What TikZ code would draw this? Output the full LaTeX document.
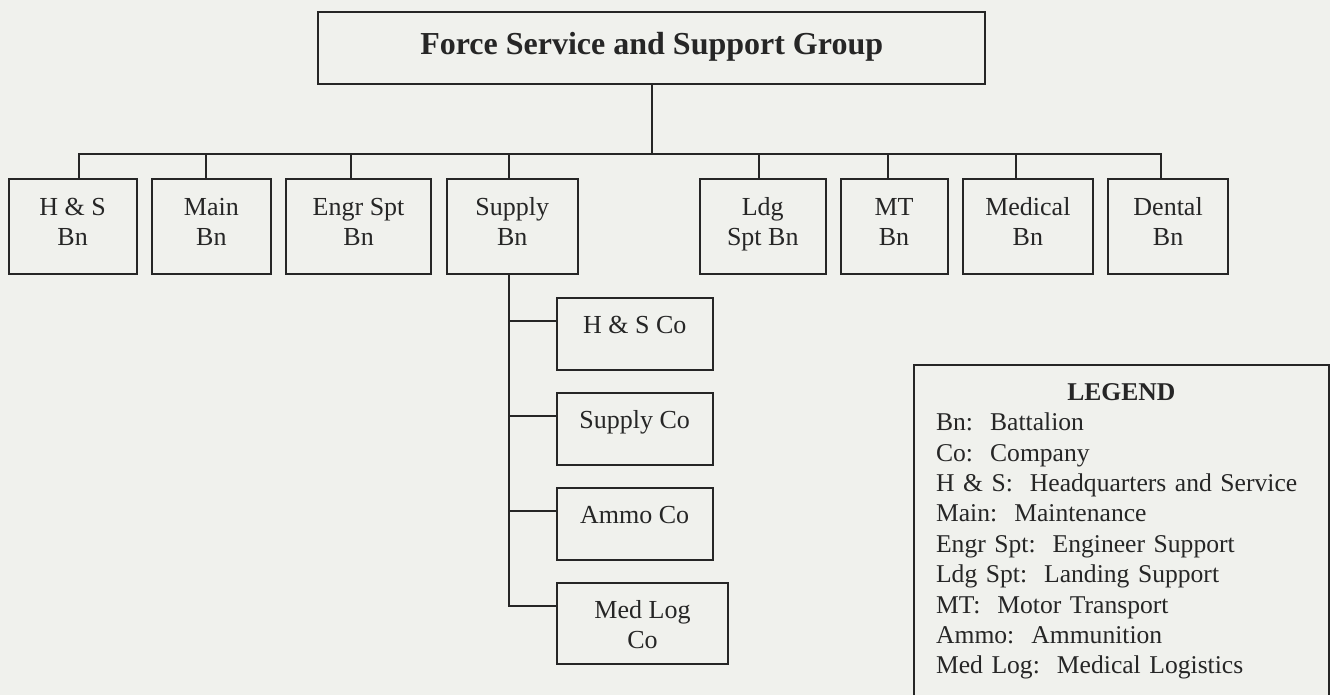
\documentclass[tikz,border=0pt]{standalone}
\usepackage{fontspec}
\setmainfont{Liberation Serif}
\frenchspacing
\definecolor{paper}{RGB}{240,241,237}
\definecolor{ink}{RGB}{38,38,38}
\tikzset{
  box/.style={draw=ink, line width=1pt, text=ink, inner xsep=0pt, inner ysep=0pt,
    align=center, anchor=north west, font=\fontsize{13}{15}\selectfont},
  unit/.style={box, text height=33.5pt, text depth=14pt},
  company/.style={box, minimum width=78pt, text height=18pt, text depth=18pt},
  wire/.style={draw=ink, line width=1pt},
  legendtext/.style={anchor=north west, text=ink, text width=185.3pt, inner xsep=10.85pt,
    inner ysep=9pt, align=left, font=\fontsize{12.8}{15.2}\selectfont},
}
\newcommand{\Unit}[4]{\node[unit, minimum width=#2pt] (#1) at (#3) {#4};}
\newcommand{\Company}[3][]{\node[company, #1] (#2) at (277.85,#3)}

\begin{document}
\begin{tikzpicture}[x=1pt, y=-1pt]
\useasboundingbox (0,0) rectangle (665,347.5);
\clip (0,0) rectangle (665,347.5);
\fill[paper] (0,0) rectangle (665,347.5);

\node[box, minimum width=333.3pt, text height=21.5pt, text depth=14.35pt,
  font=\fontsize{16}{19}\selectfont\bfseries] (fssg) at (158.7,5.5) {Force Service and Support Group};

	\Unit{hs}{64.05}{3.8,89}{H \& S\\Bn}
	\Unit{main}{59.65}{75.35,89}{Main\\Bn}
	\Unit{engr}{72.4}{142.6,89}{Engr Spt\\Bn}
	\Unit{supply}{65.7}{222.8,89}{Supply\\Bn}
	\Unit{ldg}{63.2}{349.3,89}{Ldg\\Spt Bn}
	\Unit{mt}{53.55}{419.75,89}{MT\\Bn}
	\Unit{med}{65.1}{480.9,89}{Medical\\Bn}
	\Unit{dental}{59.7}{553.7,89}{Dental\\Bn}

	\Company{hsco}{148.35} {H \& S Co};
	\Company{supco}{195.85} {Supply Co};
	\Company{ammoco}{243.35} {Ammo Co};
	\Company[minimum width=85.8pt, text height=32.35pt, text depth=8.15pt]{medlogco}{291.15} {Med Log\\Co};

\coordinate (buslevel) at (0,77);
\coordinate (bus) at (fssg.south |- buslevel);
\coordinate (spine) at ([xshift=-1.65pt]supply.south);

	\draw[wire] (fssg.south) -- (bus);
	\foreach \n/\dx in {hs/3,main/-2.5,engr/-3.8,supply/-1.65,ldg/-1.7,mt/-2.9,med/-5.9,dental/-3.8}
		\draw[wire] ([xshift=\dx pt]\n.north) |- (bus);
	\foreach \c in {hsco,supco,ammoco,medlogco}
		\draw[wire] (spine) |- ([yshift=-12pt]\c.north west);

\node[legendtext] (legend) at (457,182.5) {\hfill\textbf{LEGEND}\hfill\null\\
Bn:~~Battalion\\
Co:~~Company\\
H \& S:~~Headquarters and Service\\
Main:~~Maintenance\\
Engr Spt:~~Engineer Support\\
Ldg Spt:~~Landing Support\\
MT:~~Motor Transport\\
Ammo:~~Ammunition\\
Med Log:~~Medical Logistics};
\draw[wire] (legend.north west) rectangle ([yshift=-20pt]legend.south east);
\end{tikzpicture}
\end{document}
